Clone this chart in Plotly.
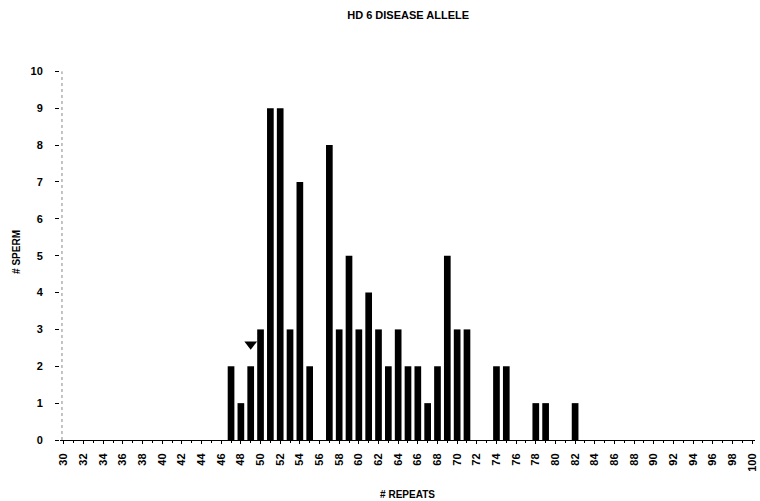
import plotly.graph_objects as go

repeats = [47, 48, 49, 50, 51, 52, 53, 54, 55, 57, 58, 59, 60, 61, 62, 63, 64, 65, 66, 67, 68, 69, 70, 71, 74, 75, 78, 79, 82]
sperm = [2, 1, 2, 3, 9, 9, 3, 7, 2, 8, 3, 5, 3, 4, 3, 2, 3, 2, 2, 1, 2, 5, 3, 3, 2, 2, 1, 1, 1]
marker_x = [49]
marker_y = [2.6]
x_ticks = list(range(30, 101, 2))
y_ticks = list(range(0, 11))

fig = go.Figure()
fig.add_trace(go.Bar(x=repeats, y=sperm, width=0.68,
                     marker=dict(color="black", line=dict(width=0)), showlegend=False))
fig.add_trace(go.Scatter(x=marker_x, y=marker_y, mode="markers",
                         marker=dict(symbol="triangle-down", size=11, color="black"),
                         showlegend=False))

tf = dict(family="Liberation Sans, Arial, sans-serif", size=11, color="black", weight="bold")
fig.update_layout(
    width=760, height=501,
    margin=dict(l=60, r=5, t=64, b=61),
    paper_bgcolor="white", plot_bgcolor="white",
    title=dict(text="HD 6 DISEASE ALLELE", x=0.537, xanchor="center", y=0.97, yanchor="middle",
               font=dict(family="Liberation Sans, Arial, sans-serif", size=11, color="black", weight="bold")),
    xaxis=dict(range=[29.6, 100.3], tickmode="array", tickvals=x_ticks,
               ticktext=[str(v) for v in x_ticks], tickangle=-90, tickfont=tf,
               showgrid=False, zeroline=False, showline=True, linecolor="black", linewidth=1,
               ticks="outside", ticklen=3, tickcolor="black", ticklabelstandoff=5,
               ticklabeloverflow="allow",
               minor=dict(ticks="outside", ticklen=2, dtick=1, tickcolor="black"),
               title=dict(text="# REPEATS", font=dict(tf, size=10), standoff=20), automargin=False),
    yaxis=dict(range=[0, 10.2], tickmode="array", tickvals=y_ticks, tickfont=tf,
               showgrid=False, zeroline=False, showline=False,
               ticks="outside", ticklen=4, tickcolor="black", ticklabelstandoff=10,
               title=dict(text="# SPERM", font=dict(tf, size=10), standoff=8), automargin=False),
)
fig.add_shape(type="line", xref="x", yref="y", x0=29.8, x1=29.8, y0=0, y1=10,
              line=dict(color="#888", width=1, dash="dot"))
fig.write_html("out.html", post_script="document.body.style.margin='0';",
               config={"displayModeBar": False})
